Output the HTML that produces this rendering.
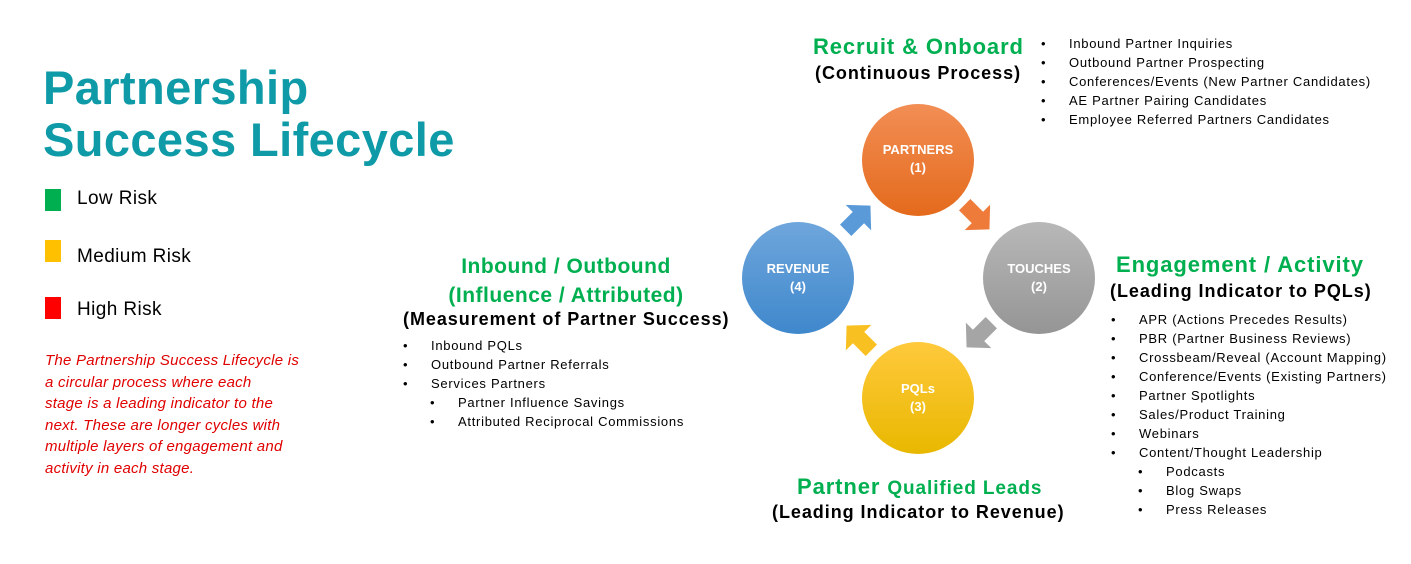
<!DOCTYPE html>
<html><head><meta charset="utf-8"><style>
body{margin:0;width:1411px;height:564px;background:#fff;position:relative;overflow:hidden;font-family:"Liberation Sans",Arial,sans-serif}
.a{position:absolute;white-space:nowrap}
.t{color:#0e9aa7;font-weight:bold;font-size:47px;line-height:52px;left:43px;top:62px;letter-spacing:0.4px}
.g{color:#00b050;font-weight:bold;font-size:22px;letter-spacing:0.9px}
.b{color:#000;font-weight:bold;font-size:18px;letter-spacing:0.95px}
ul{margin:0;padding:0;list-style:none;font-size:13px;line-height:19px;color:#000;letter-spacing:0.72px}
li{position:relative;padding-left:28px}
li:before{content:"•";position:absolute;left:0}
li.s{padding-left:55px}li.s:before{left:27px}
.sq{position:absolute;left:45px;width:16px;height:22px}
.lg{font-size:19px;left:77px;letter-spacing:0.4px}
</style></head><body>
<div class="a t">Partnership<br>Success Lifecycle</div>
<div class="sq" style="top:189px;background:#00b050"></div><div class="a lg" style="top:188px">Low Risk</div>
<div class="sq" style="top:240px;background:#ffc000"></div><div class="a lg" style="top:246px">Medium Risk</div>
<div class="sq" style="top:297px;background:#ff0000"></div><div class="a lg" style="top:299px">High Risk</div>
<div class="a" style="left:45px;top:350px;color:#e00000;font-style:italic;font-size:15px;line-height:21.6px;letter-spacing:0.25px">The Partnership Success Lifecycle is<br>a circular process where each<br>stage is a leading indicator to the<br>next. These are longer cycles with<br>multiple layers of engagement and<br>activity in each stage.</div>

<div class="a g" style="left:813px;top:34px">Recruit &amp; Onboard</div>
<div class="a b" style="left:815px;top:63px">(Continuous Process)</div>
<ul class="a" style="left:1041px;top:34px"><li>Inbound Partner Inquiries</li><li>Outbound Partner Prospecting</li><li>Conferences/Events (New Partner Candidates)</li><li>AE Partner Pairing Candidates</li><li>Employee Referred Partners Candidates</li></ul>

<div class="a g" style="left:400px;top:252px;width:332px;text-align:center;line-height:29px;font-size:21px;letter-spacing:0.5px">Inbound / Outbound<br>(Influence / Attributed)</div>
<div class="a b" style="left:403px;top:309px">(Measurement of Partner Success)</div>
<ul class="a" style="left:403px;top:336px"><li>Inbound PQLs</li><li>Outbound Partner Referrals</li><li>Services Partners</li><li class="s">Partner Influence Savings</li><li class="s">Attributed Reciprocal Commissions</li></ul>

<div class="a g" style="left:1116px;top:252px">Engagement / Activity</div>
<div class="a b" style="left:1110px;top:281px">(Leading Indicator to PQLs)</div>
<ul class="a" style="left:1111px;top:310px"><li>APR (Actions Precedes Results)</li><li>PBR (Partner Business Reviews)</li><li>Crossbeam/Reveal (Account Mapping)</li><li>Conference/Events (Existing Partners)</li><li>Partner Spotlights</li><li>Sales/Product Training</li><li>Webinars</li><li>Content/Thought Leadership</li><li class="s">Podcasts</li><li class="s">Blog Swaps</li><li class="s">Press Releases</li></ul>

<div class="a g" style="left:797px;top:474px">Partner <span style="font-size:19px">Qualified Leads</span></div>
<div class="a b" style="left:772px;top:502px">(Leading Indicator to Revenue)</div>

<svg class="a" style="left:0;top:0" width="1411" height="564">
<defs>
<linearGradient id="o" x1="0" y1="0" x2="0" y2="1"><stop offset="0" stop-color="#f28e55"/><stop offset="1" stop-color="#e46a1c"/></linearGradient>
<linearGradient id="gr" x1="0" y1="0" x2="0" y2="1"><stop offset="0" stop-color="#b8b8b8"/><stop offset="1" stop-color="#959595"/></linearGradient>
<linearGradient id="y" x1="0" y1="0" x2="0" y2="1"><stop offset="0" stop-color="#ffc93c"/><stop offset="1" stop-color="#e8b800"/></linearGradient>
<linearGradient id="bl" x1="0" y1="0" x2="0" y2="1"><stop offset="0" stop-color="#6fa6dc"/><stop offset="1" stop-color="#3f88cc"/></linearGradient>
<polygon id="ar" points="-16,-8 2,-8 2,-18 19,0 2,18 2,8 -16,8"/>
</defs>
<circle cx="918" cy="160" r="56" fill="url(#o)"/>
<circle cx="1039" cy="278" r="56" fill="url(#gr)"/>
<circle cx="918" cy="398" r="56" fill="url(#y)"/>
<circle cx="798" cy="278" r="56" fill="url(#bl)"/>
<use href="#ar" fill="#ee7b3a" transform="translate(976,216) rotate(45)"/>
<use href="#ar" fill="#a5a5a5" transform="translate(980,334) rotate(135)"/>
<use href="#ar" fill="#f8c020" transform="translate(860,339) rotate(-135)"/>
<use href="#ar" fill="#5b9ad8" transform="translate(857,219) rotate(-45)"/>
<g fill="#fff" font-weight="bold" font-size="13" text-anchor="middle" font-family="Liberation Sans,Arial,sans-serif">
<text x="918" y="154">PARTNERS</text><text x="918" y="172">(1)</text>
<text x="1039" y="273">TOUCHES</text><text x="1039" y="291">(2)</text>
<text x="918" y="393">PQLs</text><text x="918" y="411">(3)</text>
<text x="798" y="273">REVENUE</text><text x="798" y="291">(4)</text>
</g>
</svg>
</body></html>
